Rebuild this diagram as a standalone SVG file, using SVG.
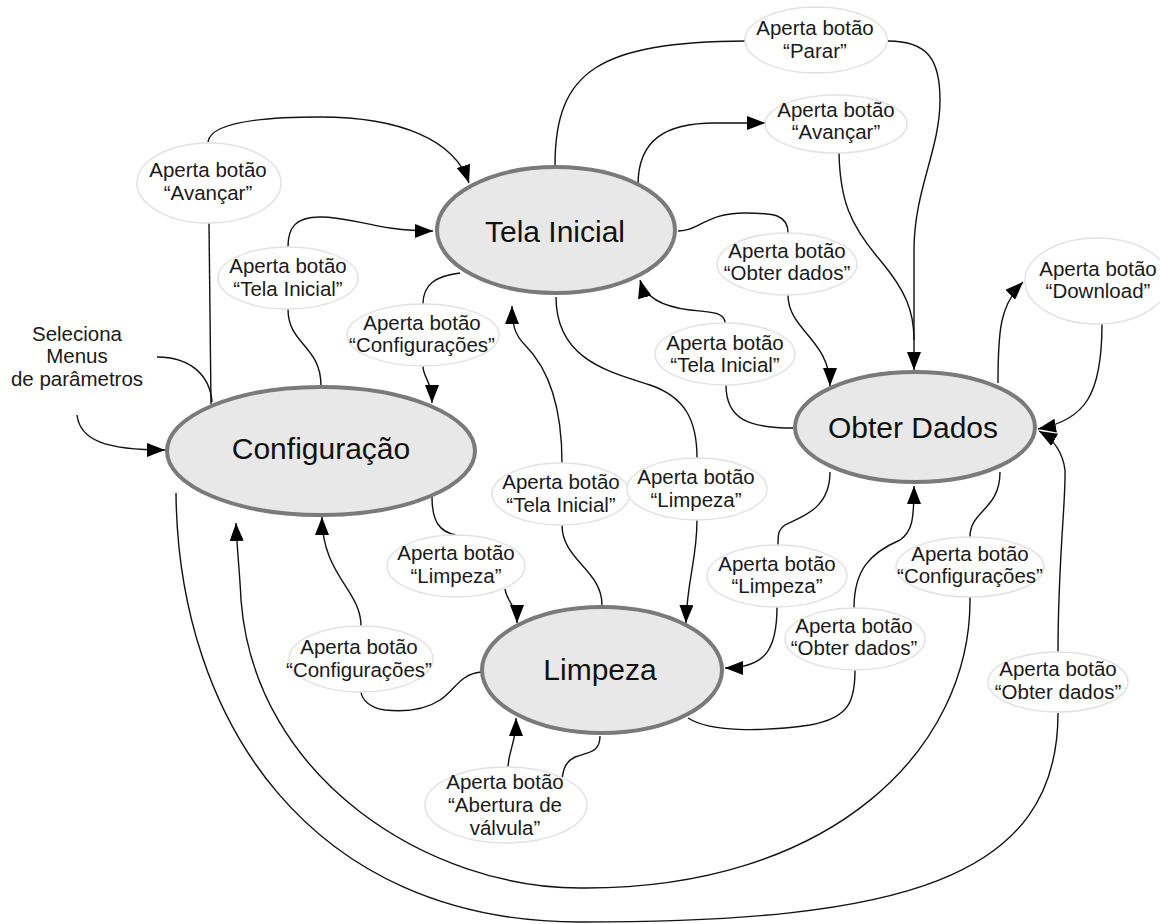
<svg xmlns="http://www.w3.org/2000/svg" width="1160" height="924" viewBox="0 0 1160 924">
<defs>
<marker id="arr" markerUnits="userSpaceOnUse" markerWidth="18" markerHeight="14" refX="18" refY="7" orient="auto">
<path d="M0,0 L18,7 L0,14 z" fill="#000"/>
</marker>
<style>
.state ellipse{fill:#e8e8e8;stroke:#7a7a7a;stroke-width:4}
.state text{font-family:"Liberation Sans",Arial,sans-serif;font-size:30px;fill:#111;text-anchor:middle}
.lbl ellipse{fill:#fff;stroke:#e2e2e2;stroke-width:1.5}
.lbl text,.free text{font-family:"Liberation Sans",Arial,sans-serif;font-size:20.5px;fill:#1a1a1a;text-anchor:middle}
.edges path{fill:none;stroke:#111;stroke-width:1.4}
.edges path.a{marker-end:url(#arr)}
</style>
</defs>
<rect width="1160" height="924" fill="#fff"/>

<g id="connectors" class="edges">
<!-- Seleciona loop -->
<path d="M157,357 C190,357 210,375 212,402"/>
<path class="a" d="M77,415 C80,440 105,450 165,450"/>
<!-- Configuracao -> Tela Inicial via Avancar -->
<path d="M211,404 L209,223"/>
<path class="a" d="M208,142 C210,125 250,117 320,117 C400,117 455,140 469,183"/>
<!-- Configuracao -> Tela Inicial via Tela Inicial -->
<path d="M321,386 C321,345 288,345 288,309"/>
<path class="a" d="M288,247 C288,228 295,217 320,217 C355,217 375,231 433,231"/>
<!-- Tela Inicial -> Configuracao via Configuracoes -->
<path d="M460,273 C435,276 423,285 423,304"/>
<path class="a" d="M423,366 C423,378 432,380 432,403"/>
<!-- Tela Inicial -> Obter Dados via Parar -->
<path d="M555,165 C555,70 600,42 746,41"/>
<path class="a" d="M888,41 C928,41 940,60 940,100 C940,150 914,190 914,250 L914,370"/>
<!-- Tela Inicial -> Avancar -> Obter Dados -->
<path class="a" d="M638,185 C638,140 665,123 715,123 L765,123"/>
<path d="M839,153 C840,200 850,225 880,260 C905,290 914,310 914,340"/>
<!-- Tela Inicial -> Obter Dados via Obter dados -->
<path d="M678,231 C700,231 705,213 745,213 C775,213 788,215 788,233"/>
<path class="a" d="M788,295 C788,330 830,340 830,386"/>
<!-- Obter Dados -> Tela Inicial -->
<path d="M793,428 C750,428 726,420 726,385"/>
<path class="a" d="M725,323 C725,312 710,312 690,310 C665,307 645,298 640,280"/>
<!-- Tela Inicial -> Limpeza -->
<path d="M556,297 C556,360 610,372 650,385 C685,397 697,420 697,458"/>
<path class="a" d="M697,520 C697,560 687,580 686,623"/>
<!-- Limpeza -> Tela Inicial -->
<path d="M602,605 C602,570 562,560 562,525"/>
<path class="a" d="M562,463 C562,410 550,370 525,345 C515,335 512,325 512,306"/>
<!-- Configuracao -> Limpeza -->
<path d="M432,497 C432,522 440,532 456,535"/>
<path class="a" d="M505,589 C507,603 517,605 517,623"/>
<!-- Obter Dados -> Limpeza -->
<path d="M830,472 C830,510 800,517 785,525 C778,530 778,535 778,545"/>
<path class="a" d="M777,607 C777,650 765,668 725,668"/>
<!-- Limpeza -> Obter Dados -->
<path d="M688,718 C710,732 760,732 810,725 C850,718 855,700 855,670"/>
<path class="a" d="M854,608 C854,570 870,553 900,540 C912,532 914,520 914,486"/>
<!-- Obter Dados -> Configuracao via Configuracoes (inner arc) -->
<path d="M1000,472 C1000,510 970,510 970,537"/>
<path class="a" d="M970,597 C972,750 830,890 580,888 C430,888 255,780 241,600 C240,575 237,550 236,523"/>
<!-- Configuracao -> Obter Dados via Obter dados (outer arc) -->
<path d="M176,493 C178,720 310,922 580,922 C900,922 1058,880 1058,713"/>
<path class="a" d="M1058,652 C1058,560 1066,500 1065,470 C1063,455 1055,440 1039,431"/>
<!-- Obter Dados -> Download -> Obter Dados -->
<path class="a" d="M998,383 C998,330 1000,305 1023,282"/>
<path class="a" d="M1102,324 C1102,395 1085,420 1038,429"/>
<!-- Limpeza <-> Abertura de valvula -->
<path class="a" d="M508,769 C508,750 516,745 516,718"/>
<path d="M600,736 C600,752 590,752 575,757 C565,762 563,770 562,780"/>
<!-- Limpeza -> Configuracao via Configuracoes -->
<path d="M481,672 C460,674 455,690 440,700 C425,710 405,712 385,710 C370,708 362,700 361,692"/>
<path class="a" d="M361,626 C361,590 322,575 322,517"/>
</g>

<g id="free-label" class="free">
<text x="77" y="341">Seleciona</text>
<text x="77" y="363">Menus</text>
<text x="77" y="386">de parâmetros</text>
</g>

<g id="lbl-avancar-1" class="lbl"><ellipse cx="209" cy="183" rx="72" ry="40"/><text x="208" y="177">Aperta botão</text><text x="208" y="200">“Avançar”</text></g>
<g id="lbl-telainicial-1" class="lbl"><ellipse cx="288" cy="278" rx="70" ry="31"/><text x="288" y="273">Aperta botão</text><text x="288" y="296">“Tela Inicial”</text></g>
<g id="lbl-parar" class="lbl"><ellipse cx="816" cy="40" rx="71" ry="33"/><text x="815" y="35">Aperta botão</text><text x="815" y="58">“Parar”</text></g>
<g id="lbl-avancar-2" class="lbl"><ellipse cx="836" cy="124" rx="71" ry="29"/><text x="836" y="117">Aperta botão</text><text x="836" y="139">“Avançar”</text></g>
<g id="lbl-obter-1" class="lbl"><ellipse cx="787" cy="264" rx="70" ry="31"/><text x="787" y="258">Aperta botão</text><text x="787" y="280">“Obter dados”</text></g>
<g id="lbl-download" class="lbl"><ellipse cx="1097" cy="281" rx="72" ry="43"/><text x="1098" y="276">Aperta botão</text><text x="1098" y="298">“Download”</text></g>
<g id="lbl-config-1" class="lbl"><ellipse cx="423" cy="335" rx="76" ry="31"/><text x="422" y="330">Aperta botão</text><text x="422" y="352">“Configurações”</text></g>
<g id="lbl-telainicial-2" class="lbl"><ellipse cx="725" cy="354" rx="70" ry="31"/><text x="725" y="350">Aperta botão</text><text x="725" y="372">“Tela Inicial”</text></g>
<g id="lbl-telainicial-3" class="lbl"><ellipse cx="561" cy="494" rx="69" ry="31"/><text x="561" y="489">Aperta botão</text><text x="561" y="512">“Tela Inicial”</text></g>
<g id="lbl-limpeza-1" class="lbl"><ellipse cx="697" cy="489" rx="70" ry="31"/><text x="696" y="484">Aperta botão</text><text x="696" y="507">“Limpeza”</text></g>
<g id="lbl-limpeza-2" class="lbl"><ellipse cx="456" cy="566" rx="69" ry="31"/><text x="456" y="560">Aperta botão</text><text x="456" y="583">“Limpeza”</text></g>
<g id="lbl-limpeza-3" class="lbl"><ellipse cx="777" cy="576" rx="70" ry="31"/><text x="777" y="571">Aperta botão</text><text x="777" y="593">“Limpeza”</text></g>
<g id="lbl-obter-2" class="lbl"><ellipse cx="855" cy="639" rx="70" ry="31"/><text x="854" y="633">Aperta botão</text><text x="854" y="655">“Obter dados”</text></g>
<g id="lbl-config-2" class="lbl"><ellipse cx="970" cy="567" rx="74" ry="30"/><text x="970" y="561">Aperta botão</text><text x="970" y="583">“Configurações”</text></g>
<g id="lbl-obter-3" class="lbl"><ellipse cx="1058" cy="682" rx="70" ry="30"/><text x="1058" y="676">Aperta botão</text><text x="1058" y="699">“Obter dados”</text></g>
<g id="lbl-config-3" class="lbl"><ellipse cx="361" cy="659" rx="72" ry="33"/><text x="359" y="654">Aperta botão</text><text x="359" y="677">“Configurações”</text></g>
<g id="lbl-abertura" class="lbl"><ellipse cx="506" cy="805" rx="81" ry="38"/><text x="505" y="789">Aperta botão</text><text x="505" y="812">“Abertura de</text><text x="505" y="835">válvula”</text></g>

<g id="node-tela-inicial" class="state"><ellipse cx="556" cy="230" rx="119" ry="63"/><text x="555" y="242">Tela Inicial</text></g>
<g id="node-configuracao" class="state"><ellipse cx="321" cy="451" rx="154" ry="64"/><text x="321" y="459">Configuração</text></g>
<g id="node-obter-dados" class="state"><ellipse cx="915" cy="427" rx="120" ry="55"/><text x="913" y="438">Obter Dados</text></g>
<g id="node-limpeza" class="state"><ellipse cx="602" cy="670" rx="120" ry="63"/><text x="600" y="680">Limpeza</text></g>
</svg>
